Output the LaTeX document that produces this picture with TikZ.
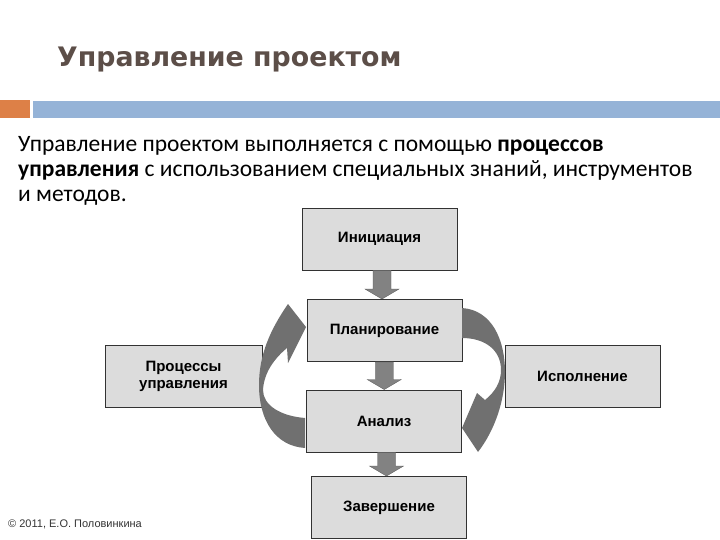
\documentclass[tikz,border=0pt]{standalone}
\usepackage{fontspec}
\setmainfont{Carlito}
\newfontfamily\boxfont{Liberation Sans}
\newfontfamily\titlefont{DejaVu Sans}
\usetikzlibrary{calc}
\definecolor{titlecol}{RGB}{92,78,72}
\definecolor{barorange}{RGB}{221,128,71}
\definecolor{barblue}{RGB}{149,179,215}
\definecolor{boxfill}{RGB}{220,220,220}
\definecolor{boxline}{RGB}{50,50,50}
\definecolor{curvecol}{RGB}{112,112,112}
\definecolor{downcol}{RGB}{130,130,130}
\tikzset{
  stage/.style={draw=boxline, line width=0.9pt, fill=boxfill, minimum width=155pt, minimum height=62pt,
    inner sep=2pt, align=center, font=\boxfont\bfseries\fontsize{15}{17}\selectfont},
  bodyline/.style={anchor=base west, inner sep=0pt, font=\fontsize{23.5}{25}\selectfont},
  blockarrow/.style={fill=downcol, draw=gray!70!black, line width=0.3pt},
}
\begin{document}
\begin{tikzpicture}[x=1pt,y=-1pt]
\useasboundingbox (0,0) rectangle (720,540);
% title
\node[anchor=base west, inner sep=0pt, text=titlecol, font=\titlefont\bfseries\fontsize{26.8}{28}\selectfont] (title) at (57,67) {Управление проектом};
% bar
\fill[barorange] (0,100) rectangle (30,118);
\fill[barblue] (33,101) rectangle (720,118);
% body text
\node[bodyline] (b1) at (18,152) {Управление проектом выполняется с помощью \textbf{процессов}};
\node[bodyline] (b2) at (18,177) {\textbf{управления} с использованием специальных знаний, инструментов};
\node[bodyline] (b3) at (18,202) {и методов.};
% boxes
\node[stage] (ini) at (379.5,239) {Инициация};
\node[stage] (plan) at (384.5,330.5) {Планирование};
\node[stage] (anal) at (384,421) {Анализ};
\node[stage] (fin) at (389,507.5) {Завершение};
\node[stage, minimum width=157pt] (proc) at (183.5,376.5) {Процессы\\управления};
\node[stage] (exec) at (582.5,376.5) {Исполнение};
% down block arrows
\foreach \s/\t in {ini/plan, plan/anal, anal/fin}{
  \path let \p1=(\s.south), \p2=(\t.north), \p3=($(\p1)!0.5!(\p2)$) in
    [blockarrow] (\x3-9pt,\y1) -- (\x3-9pt,\y2+10pt) -- (\x3-17pt,\y2+10pt) -- (\x3,\y2)
    -- (\x3+17pt,\y2+10pt) -- (\x3+9pt,\y2+10pt) -- (\x3+9pt,\y1) -- cycle;
}
% curved arrows
\fill[curvecol] (305,448) .. controls (275,446) and (259,420) .. (259,385)
  .. controls (259,355) and (270,330) .. (288,304)
  -- (306,327) -- (288,363) -- (287,348)
  .. controls (275,358) and (264,372) .. (263,390)
  .. controls (263,405) and (280,416) .. (305,418) -- cycle;
\fill[curvecol] (462,308) .. controls (492,310) and (505,340) .. (505,372)
  .. controls (505,400) and (495,430) .. (478,452)
  -- (462,428) -- (477,393) -- (485,400)
  .. controls (495,392) and (501,382) .. (501,370)
  .. controls (501,350) and (485,338) .. (462,338) -- cycle;
% footer
\node[anchor=base west, inner sep=0pt, text=black!80, font=\boxfont\fontsize{11}{13}\selectfont] (copy) at (8,527) {© 2011, Е.О. Половинкина};
\end{tikzpicture}
\end{document}
